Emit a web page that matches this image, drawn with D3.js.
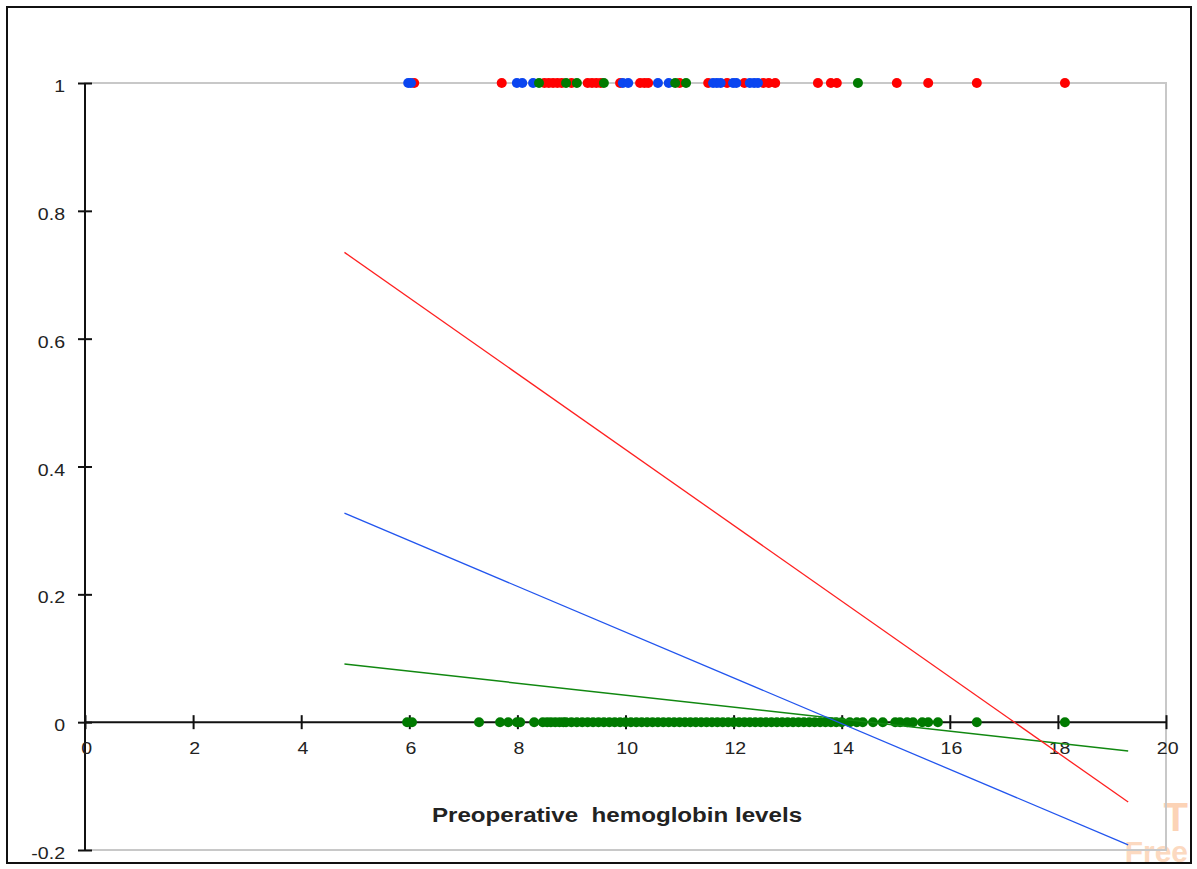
<!DOCTYPE html>
<html>
<head>
<meta charset="utf-8">
<script src="https://cdn.jsdelivr.net/npm/d3@7"></script>
<style>
  body { margin: 0; background: #fff; }
  text { font-family: "Liberation Sans", Arial, sans-serif; }
</style>
</head>
<body>
<script>
// axis ticks
var xTicks = [0, 2, 4, 6, 8, 10, 12, 14, 16, 18, 20];
var yTicks = [-0.2, 0, 0.2, 0.4, 0.6, 0.8, 1];

// points at outcome = 1
var redTop = [6.09, 7.71, 8.5, 8.58, 8.66, 8.74, 8.82, 9.0, 9.3, 9.38, 9.46, 9.54, 9.9, 10.27, 10.35, 10.42,
              11.0, 11.53, 11.88, 12.2, 12.55, 12.65, 12.77, 13.56, 13.8, 13.91, 15.02, 15.6, 16.5, 18.13];
var blueTop = [5.98, 6.03, 7.99, 8.09, 8.29, 9.95, 10.05, 10.6, 10.8, 11.62, 11.69, 11.76, 11.99, 12.05,
               12.3, 12.38, 12.45];
var greenTop = [8.4, 8.9, 9.1, 9.6, 10.92, 11.12, 14.3];

// points at outcome = 0
var greenBottom = [5.96, 6.05, 7.29, 7.68, 7.83, 7.99, 8.05, 8.31, 8.47, 8.55, 8.62, 8.7, 8.78, 8.85,
  8.9, 9.0, 9.1, 9.2, 9.3, 9.4, 9.5, 9.6, 9.7, 9.8, 9.9, 10.0, 10.1, 10.2, 10.3, 10.4, 10.5, 10.6,
  10.7, 10.8, 10.9, 11.0, 11.1, 11.2, 11.3, 11.4, 11.5, 11.6, 11.7, 11.8, 11.9, 12.0, 12.1, 12.2,
  12.3, 12.4, 12.5, 12.6, 12.7, 12.8, 12.9, 13.0, 13.1, 13.2, 13.3, 13.4, 13.5, 13.6, 13.7, 13.8,
  13.9, 14.0, 14.15, 14.28, 14.39, 14.58, 14.76, 14.99, 15.08, 15.21, 15.32, 15.49, 15.6, 15.78,
  16.5, 18.13];

// linear trend lines (start, end)
var redLine = [[4.8, 0.735], [19.3, -0.125]];
var blueLine = [[4.8, 0.327], [19.3, -0.192]];
var greenLine = [[4.8, 0.091], [19.3, -0.045]];

var W = 1197, H = 869;
var stretch = 1.15; // chart text looks a bit wide
var svg = d3.select("body").append("svg").attr("width", W).attr("height", H);

var x = d3.scaleLinear().domain([0, 20]).range([85, 1166]);
var y = d3.scaleLinear().domain([-0.2, 1]).range([850, 83]);

// outer frame
svg.append("rect").attr("x", 7).attr("y", 7).attr("width", 1184).attr("height", 856)
  .attr("fill", "#fff").attr("stroke", "#111").attr("stroke-width", 2);

// watermark
svg.append("text").attr("x", 1188).attr("y", 831).attr("text-anchor", "end")
  .attr("font-size", 40).attr("font-weight", "bold").attr("fill", "#fcd3b6").text("T");
svg.append("text").attr("x", 1188).attr("y", 862).attr("text-anchor", "end")
  .attr("font-size", 30).attr("font-weight", "bold").attr("fill", "#fcd9c0").text("Free");

// plot area border
svg.append("rect").attr("x", x(0)).attr("y", y(1)).attr("width", x(20) - x(0)).attr("height", y(-0.2) - y(1))
  .attr("fill", "none").attr("stroke", "#c8c8c8").attr("stroke-width", 2);

// y axis
var yAxis = svg.append("g").attr("transform", "translate(" + x(0) + ",0)")
  .call(d3.axisLeft(y).tickValues(yTicks).tickSize(7).tickFormat(function (d) { return String(d); }));
yAxis.select(".domain").attr("stroke", "#111").attr("stroke-width", 2).attr("d", "M0," + y(1) + "V" + y(-0.2));
yAxis.selectAll(".tick line").attr("stroke", "#111").attr("stroke-width", 2).attr("x1", 7).attr("x2", -7);
yAxis.selectAll(".tick text").attr("x", -20 / stretch).attr("dy", "0.5em")
  .attr("transform", "scale(" + stretch + ",1)")
  .attr("font-size", 17).attr("fill", "#222")
  .attr("font-family", "Liberation Sans, Arial, sans-serif");

// x axis at y = 0
var xAxis = svg.append("g").attr("transform", "translate(0," + y(0) + ")")
  .call(d3.axisBottom(x).tickValues(xTicks).tickSize(7));
xAxis.select(".domain").attr("stroke", "#111").attr("stroke-width", 2).attr("d", "M" + x(0) + ",0H" + x(20));
xAxis.selectAll(".tick line").attr("stroke", "#111").attr("stroke-width", 2).attr("y1", -7).attr("y2", 7);
xAxis.selectAll(".tick text").attr("y", 20).attr("dx", 1).attr("font-size", 17).attr("fill", "#222")
  .attr("transform", "scale(" + stretch + ",1)")
  .attr("font-family", "Liberation Sans, Arial, sans-serif");

// axis title
svg.append("text").attr("transform", "translate(617,822) scale(" + stretch + ",1)")
  .attr("text-anchor", "middle")
  .attr("font-size", 21).attr("font-weight", "bold").attr("fill", "#222")
  .attr("xml:space", "preserve").style("white-space", "pre")
  .text("Preoperative  hemoglobin levels");

// points
function dots(data, yv, color) {
  svg.append("g").selectAll("circle").data(data).enter().append("circle")
    .attr("cx", function (d) { return x(d); })
    .attr("cy", y(yv))
    .attr("r", 5)
    .attr("fill", color);
}
dots(redTop, 1, "#ff0000");
dots(blueTop, 1, "#0a45f0");
dots(greenTop, 1, "#007a00");
dots(greenBottom, 0, "#007a00");

// trend lines
var line = d3.line().x(function (d) { return x(d[0]); }).y(function (d) { return y(d[1]); });
svg.append("path").datum(greenLine).attr("d", line).attr("fill", "none").attr("stroke", "#118811").attr("stroke-width", 1.5);
svg.append("path").datum(blueLine).attr("d", line).attr("fill", "none").attr("stroke", "#2255ee").attr("stroke-width", 1.3);
svg.append("path").datum(redLine).attr("d", line).attr("fill", "none").attr("stroke", "#ff2020").attr("stroke-width", 1.3);
</script>
</body>
</html>
